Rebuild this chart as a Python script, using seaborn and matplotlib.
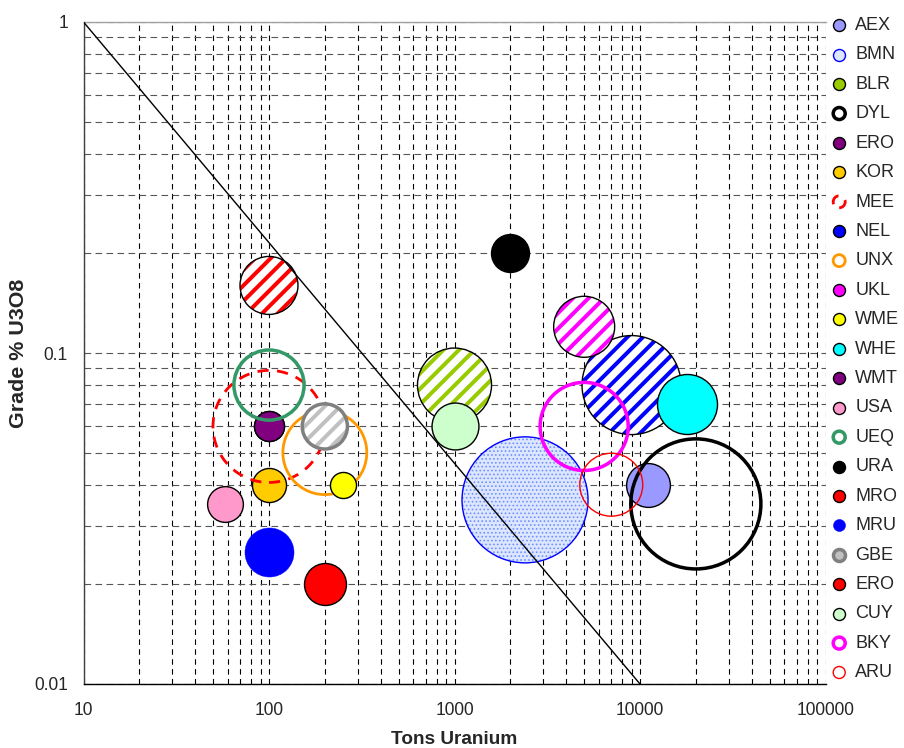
import matplotlib
matplotlib.use("Agg")
import matplotlib.pyplot as plt
from matplotlib.ticker import FixedLocator, FuncFormatter, NullFormatter, LogLocator
import seaborn as sns

# Données
names = ["AEX", "BMN", "BLR", "DYL", "ERO", "KOR", "MEE", "NEL", "UNX", "UKL", "WME", "WHE",
         "WMT", "USA", "UEQ", "URA", "MRO", "MRU", "GBE", "ERO", "CUY", "BKY", "ARU"]
tons = [11000, 2400, 1000, 20000, 100, 100, 100, 9000, 200, 5000, 250, 18000,
        100, 58, 100, 2000, 100, 100, 200, 200, 1000, 5000, 7000]
grade = [0.04, 0.036, 0.08, 0.035, 0.06, 0.04, 0.06, 0.08, 0.05, 0.12, 0.04, 0.07,
         0.06, 0.035, 0.08, 0.2, 0.16, 0.025, 0.06, 0.02, 0.06, 0.06, 0.04]
bubble = [4.8, 39.7, 13.7, 42.3, 2.25, 2.9, 31.4, 24.5, 17.6, 9.3, 1.7, 9.0,
          2.25, 3.2, 12.3, 3.6, 8.4, 6.0, 5.1, 4.4, 5.5, 19.4, 9.9]

# ligne de coupure
cut_x = [10, 10000]
cut_y = [1, 0.01]

# styles : (remplissage, bord, épaisseur px, motif, couleur du motif, style de trait)
styles = [
    ("#9999ff", "black", 1.4, None, None, "-"),
    ("#dce6ff", "#0000ff", 1.4, "......", "#6f8fff", "-"),
    ("white", "black", 1.4, "///", "#99cc00", "-"),
    ("none", "black", 3.5, None, None, "-"),
    ("#800080", "black", 1.4, None, None, "-"),
    ("#ffcc00", "black", 1.4, None, None, "-"),
    ("none", "#ff0000", 2.8, None, None, (0, (4, 3))),
    ("white", "black", 1.4, "///", "#0000ff", "-"),
    ("none", "#ff9900", 2.8, None, None, "-"),
    ("white", "black", 1.4, "///", "#ff00ff", "-"),
    ("#ffff00", "black", 1.4, None, None, "-"),
    ("#00ffff", "black", 1.4, None, None, "-"),
    ("#800080", "black", 1.4, None, None, "-"),
    ("#ff99cc", "black", 1.4, None, None, "-"),
    ("none", "#339966", 3.5, None, None, "-"),
    ("black", "black", 1.4, None, None, "-"),
    ("white", "black", 1.4, "///", "#ff0000", "-"),
    ("#0000ff", "#0000ff", 0.5, None, None, "-"),
    ("white", "#808080", 3.5, "///", "#c0c0c0", "-"),
    ("#ff0000", "black", 1.4, None, None, "-"),
    ("#ccffcc", "black", 1.4, None, None, "-"),
    ("none", "#ff00ff", 3.5, None, None, "-"),
    ("none", "#ff0000", 1.4, None, None, "-"),
]

DPI = 140
P = 72 / DPI  # points par pixel

sns.set_style("white")
plt.rcParams["font.family"] = ["Liberation Sans", "DejaVu Sans"]
plt.rcParams["hatch.linewidth"] = 4 * P

fig = plt.figure(figsize=(904 / DPI, 748 / DPI), dpi=DPI)
ax = fig.add_axes([83.5 / 904, 1 - 684 / 748, 742 / 904, 662 / 748])
ax.set_xscale("log")
ax.set_yscale("log")

k = 400 * P * P  # valeur de bulle -> aire en pt²
for i in range(len(names)):
    face, edge, lw, hatch, hcol, ls = styles[i]
    s = bubble[i] * k
    if hatch:
        # couche motif puis contour
        sns.scatterplot(x=[tons[i]], y=[grade[i]], s=s, color=face, edgecolor=hcol,
                        linewidth=0, hatch=hatch, ax=ax, label=names[i], zorder=3)
        coll = ax.collections[-1]
        if hatch.startswith("."):
            try:
                coll.set_hatch_linewidth(1.0 * P)
            except AttributeError:
                pass
        sns.scatterplot(x=[tons[i]], y=[grade[i]], s=s, color="none", edgecolor=edge,
                        linewidth=lw * P, ax=ax, label="_nolegend_", zorder=3)
    else:
        sns.scatterplot(x=[tons[i]], y=[grade[i]], s=s, color=face, edgecolor=edge,
                        linewidth=lw * P, linestyle=ls, ax=ax, label=names[i], zorder=3)

sns.lineplot(x=cut_x, y=cut_y, color="black", linewidth=1.4 * P, ax=ax, zorder=4)

ax.set_xlim(10, 100000)
ax.set_ylim(0.01, 1)

ax.xaxis.set_major_locator(FixedLocator([10, 100, 1000, 10000, 100000]))
ax.yaxis.set_major_locator(FixedLocator([0.01, 0.1, 1]))
ax.xaxis.set_minor_locator(LogLocator(base=10, subs=range(2, 10)))
ax.yaxis.set_minor_locator(LogLocator(base=10, subs=range(2, 10)))
ax.xaxis.set_major_formatter(FuncFormatter(lambda v, p: f"{v:.0f}"))
ax.yaxis.set_major_formatter(FuncFormatter(lambda v, p: f"{v:g}"))
ax.xaxis.set_minor_formatter(NullFormatter())
ax.yaxis.set_minor_formatter(NullFormatter())

ax.grid(which="both", axis="x", color="black", linestyle=(0, (5, 4)), linewidth=1.1 * P)
ax.grid(which="both", axis="y", color="#555555", linestyle=(0, (6, 4)), linewidth=1.1 * P)
ax.set_axisbelow(True)

ax.tick_params(which="major", direction="inout", length=12 * P, width=1.1 * P,
               labelsize=17.5 * P)
ax.tick_params(axis="y", which="major", pad=9.5 * P)
ax.tick_params(axis="x", which="major", pad=12 * P)
ax.tick_params(which="minor", direction="in", length=4 * P, width=0.8 * P)
ax.tick_params(axis="y", which="minor", length=0)

ax.spines["right"].set_visible(False)
ax.spines["top"].set_color("#a0a0a0")
ax.spines["left"].set_color("#404040")
ax.spines["bottom"].set_color("black")
for sp in ["top", "left", "bottom"]:
    ax.spines[sp].set_linewidth(1.4 * P)

ax.set_xlabel("Tons Uranium", fontsize=19 * P, fontweight="bold", va="center")
ax.set_ylabel("Grade % U3O8", fontsize=21.5 * P, fontweight="bold", va="center")
ax.xaxis.set_label_coords(0.5, -(739 - 684) / 662)
ax.yaxis.set_label_coords((19 - 83.5) / 742, 0.5)

h, l = ax.get_legend_handles_labels()
leg = ax.legend(h, l, loc="upper left", bbox_to_anchor=(832 / 904, 1 - 17 / 748),
                bbox_transform=fig.transFigure, frameon=False, fontsize=18 * P,
                handlelength=0.8, handletextpad=0.5, labelspacing=0.69,
                borderaxespad=0, borderpad=0)
for hd, i in zip(leg.legend_handles, range(len(names))):
    face, edge, lw, hatch, hcol, ls = styles[i]
    hd.set_sizes([(12 * P) ** 2])
    if hatch:
        hd.set_hatch(None)
        if hatch.startswith("."):
            hd.set_facecolor(face)
            hd.set_edgecolor(edge)
        else:
            hd.set_facecolor(hcol)
            hd.set_edgecolor(edge)
        hd.set_linewidth(lw * P)

fig.savefig("out.png", dpi=DPI)
